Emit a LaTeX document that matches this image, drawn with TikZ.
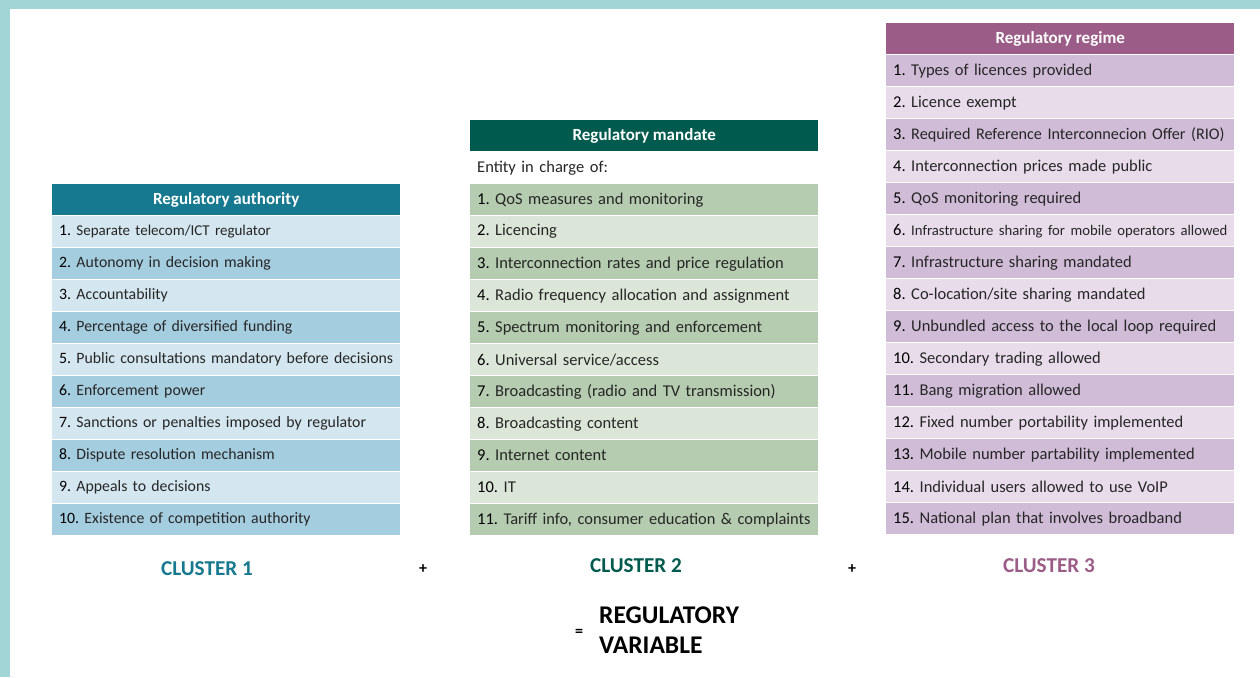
\documentclass[tikz,border=0pt]{standalone}
\usepackage{fontspec}
\setmainfont{Carlito}
\definecolor{borderc}{HTML}{A2D5D5}
\definecolor{txt}{HTML}{262626}
\definecolor{cAhead}{HTML}{17798F}
\definecolor{cAone}{HTML}{D4E6EF}
\definecolor{cAtwo}{HTML}{A5CDE0}
\definecolor{cBhead}{HTML}{005A4E}
\definecolor{cBone}{HTML}{B5CCB0}
\definecolor{cBtwo}{HTML}{DCE6D8}
\definecolor{cChead}{HTML}{9B5D87}
\definecolor{cCone}{HTML}{D1BCD8}
\definecolor{cCtwo}{HTML}{E8DCEB}
\frenchspacing
\newcommand{\fsz}[1]{\fontsize{#1}{18}\selectfont}
\begin{document}
\begin{tikzpicture}[x=1pt,y=-1pt,
  rowbox/.style={anchor=north west, minimum height=31pt, inner xsep=7pt, inner ysep=0pt,
    text width=334pt, align=left, text=txt},
  fA/.style={font=\fsz{15.8}},
  fB/.style={font=\fsz{16.5}},
  headbox/.style={anchor=north west, minimum height=31pt, minimum width=348pt, inner sep=0pt,
    font=\bfseries\fontsize{17}{18}\selectfont, text=white},
  clusterlbl/.style={font=\bfseries\fontsize{21.2}{24}\selectfont},
  opsign/.style={font=\bfseries\fontsize{16}{18}\selectfont, text=black}]
\useasboundingbox (0,0) rectangle (1260,677);
\fill[borderc] (0,0) rectangle (1260,677);
\fill[white] (10,9) rectangle (1260,677);
% Table 1
\node[headbox, fill=cAhead] (hA) at (52,184) {Regulatory authority};
\foreach \t [count=\i] in {{\fsz{15}Separate telecom/ICT regulator},{Autonomy in decision making},{Accountability},{Percentage of diversified funding},{Public consultations mandatory before decisions},{Enforcement power},{Sanctions or penalties imposed by regulator},{Dispute resolution mechanism},{Appeals to decisions},{Existence of competition authority}}{
  \ifodd\i \def\rc{cAone}\else\def\rc{cAtwo}\fi
  \node[rowbox, fA, fill=\rc] (rA\i) at (52,184+32*\i) {\mbox{\textcolor{black}{\i.} \t}};
}
% Table 2
\node[headbox, fill=cBhead] (hB) at (470,120) {Regulatory mandate};
\node[rowbox, fB, fill=white] (eB) at (470,152) {Entity in charge of:};
\foreach \t [count=\i] in {{QoS measures and monitoring},{Licencing},{Interconnection rates and price regulation},{Radio frequency allocation and assignment},{Spectrum monitoring and enforcement},{Universal service/access},{Broadcasting (radio and TV transmission)},{Broadcasting content},{Internet content},{IT},{\fsz{16.4}Tariff info, consumer education \& complaints}}{
  \ifodd\i \def\rc{cBone}\else\def\rc{cBtwo}\fi
  \node[rowbox, fB, fill=\rc] (rB\i) at (470,152+32*\i) {\mbox{\textcolor{black}{\i.} \t}};
}
% Table 3
\node[headbox, fill=cChead] (hC) at (886,23) {Regulatory regime};
\foreach \t [count=\i] in {{Types of licences provided},{Licence exempt},{\fsz{16.2}Required Reference Interconnecion Offer (RIO)},{Interconnection prices made public},{QoS monitoring required},{\fsz{14.7}Infrastructure sharing for mobile operators allowed},{Infrastructure sharing mandated},{Co-location/site sharing mandated},{Unbundled access to the local loop required},{Secondary trading allowed},{Bang migration allowed},{Fixed number portability implemented},{Mobile number partability implemented},{Individual users allowed to use VoIP},{National plan that involves broadband}}{
  \ifodd\i \def\rc{cCone}\else\def\rc{cCtwo}\fi
  \node[rowbox, fB, fill=\rc] (rC\i) at (886,23+32*\i) {\mbox{\textcolor{black}{\i.} \t}};
}
% Labels
\node[clusterlbl, text=cAhead] (clA) at (207,569) {CLUSTER 1};
\node[opsign] (plA) at (423,569) {+};
\node[clusterlbl, text=cBhead] (clB) at (636,565.5) {CLUSTER 2};
\node[opsign] (plB) at (852,569) {+};
\node[clusterlbl, text=cChead] (clC) at (1049,566) {CLUSTER 3};
\node[opsign] (eq) at (579,633) {=};
\node[anchor=west, align=left, inner sep=0pt, text=black,
  font=\bfseries\fontsize{25.5}{30.5}\selectfont] (rv) at (599,630) {REGULATORY\\VARIABLE};
\end{tikzpicture}
\end{document}
